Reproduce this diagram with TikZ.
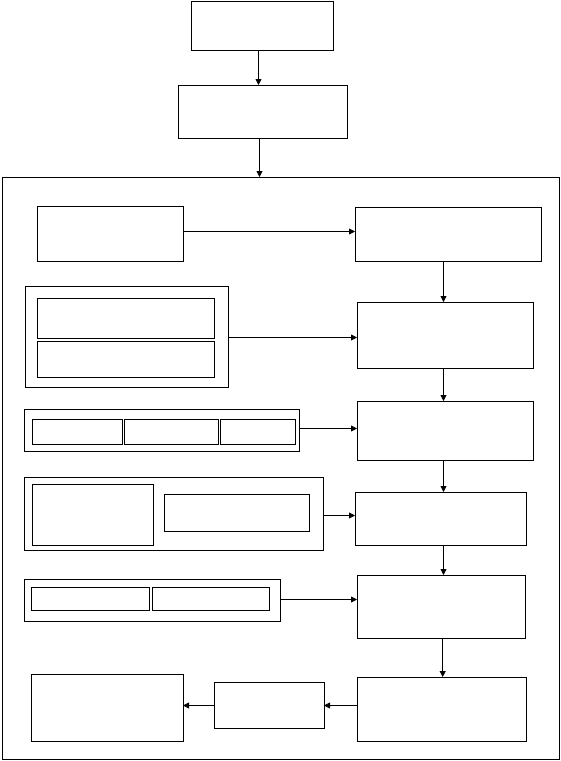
\documentclass[tikz,border=0pt]{standalone}
\usetikzlibrary{arrows.meta}
\begin{document}
\begin{tikzpicture}[x=1pt,y=-1pt,
  box/.style={draw=black,line width=0.8pt,rectangle,inner sep=0pt,outer sep=0pt},
  arr/.style={draw=black,line width=0.8pt,-{Triangle[length=6pt,width=6pt]}}]
\useasboundingbox (0,0) rectangle (561,761);
\newcommand\bx[5]{\node[box,minimum width={#4pt-#2pt},minimum height={#5pt-#3pt}] (#1) at ({(#2+#4)/2},{(#3+#5)/2}) {};}
\bx{top}{191}{1}{333}{50}
\bx{mid}{178}{85}{347}{138}
\bx{outer}{2}{177}{559}{759}
\bx{A}{37}{206}{183}{261}
\bx{R1}{355}{207}{541}{261}
\bx{Bg}{25}{286}{228}{387}
\bx{B1}{37}{298}{214}{338}
\bx{B2}{37}{341}{214}{377}
\bx{R2}{357}{302}{533}{368}
\bx{Cg}{24}{409}{299}{451}
\bx{C1}{32}{419}{122}{444}
\bx{C2}{124}{419}{218}{444}
\bx{C3}{220}{419}{295}{444}
\bx{R3}{357}{401}{533}{460}
\bx{Dg}{24}{477}{323}{550}
\bx{D1}{32}{484}{153}{545}
\bx{D2}{164}{494}{309}{531}
\bx{R4}{355}{492}{526}{545}
\bx{Eg}{24}{579}{280}{621}
\bx{E1}{31}{587}{149}{610}
\bx{E2}{152}{587}{269}{610}
\bx{R5}{357}{575}{525}{638}
\bx{R6}{357}{677}{526}{741}
\bx{M}{214}{682}{324}{728}
\bx{L}{31}{674}{183}{741}
% vertical arrows
\draw[arr] (top.south -| 258.5,0) -- (mid.north -| 258.5,0);
\draw[arr] (mid.south -| 259.5,0) -- (outer.north -| 259.5,0);
\draw[arr] (R1.south -| 443.5,0) -- (R2.north -| 443.5,0);
\draw[arr] (R2.south -| 443.5,0) -- (R3.north -| 443.5,0);
\draw[arr] (R3.south -| 443.5,0) -- (R4.north -| 443.5,0);
\draw[arr] (R4.south -| 443.5,0) -- (R5.north -| 443.5,0);
\draw[arr] (R5.south -| 442.7,0) -- (R6.north -| 442.7,0);
% horizontal arrows
\draw[arr] (A.east |- 0,231.5) -- (R1.west |- 0,231.5);
\draw[arr] (Bg.east |- 0,337.5) -- (R2.west |- 0,337.5);
\draw[arr] (Cg.east |- 0,428.5) -- (R3.west |- 0,428.5);
\draw[arr] (Dg.east |- 0,515.5) -- (R4.west |- 0,515.5);
\draw[arr] (Eg.east |- 0,599.5) -- (R5.west |- 0,599.5);
\draw[arr] (R6.west |- 0,705.5) -- (M.east |- 0,705.5);
\draw[arr] (M.west |- 0,705.5) -- (L.east |- 0,705.5);
\end{tikzpicture}
\end{document}
